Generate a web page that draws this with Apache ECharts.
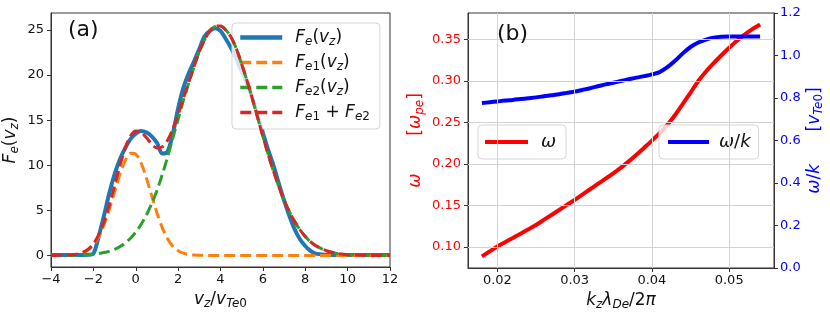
<!DOCTYPE html>
<html>
<head>
<meta charset="utf-8">
<script src="https://cdn.jsdelivr.net/npm/echarts@6/dist/echarts.min.js"></script>
<style>
html,body{margin:0;padding:0;background:#fff;}
#chart{width:830px;height:319px;}
</style>
</head>
<body>
<div id="chart"></div>
<script>
// ---------- Panel (a) data ----------
const vz = [-4, -3.5, -3, -2.75, -2.5, -2.25, -2, -1.75, -1.5, -1.25, -1, -0.75, -0.5, -0.25, 0, 0.25, 0.5, 0.75, 1, 1.25, 1.5, 1.75, 2, 2.25, 2.5, 2.75, 3, 3.25, 3.5, 3.75, 4, 4.25, 4.5, 4.75, 5, 5.25, 5.5, 5.75, 6, 6.25, 6.5, 6.75, 7, 7.25, 7.5, 7.75, 8, 8.25, 8.5, 9, 9.5, 10, 11, 12];
const Fe = [0.05, 0.05, 0.05, 0.05, 0.06, 0.08, 0.2, 2.1, 4.4, 6.9, 9.0, 10.65, 11.9, 12.9, 13.5, 13.8, 13.65, 13.2, 12.5, 11.3, 11.5, 13.5, 16.3, 18.6, 20.2, 21.5, 22.9, 24.3, 24.9, 25.2, 24.9, 24.0, 23.0, 21.8, 20.4, 19.1, 17.5, 15.6, 13.6, 11.7, 10.0, 8.0, 6.1, 4.4, 2.9, 1.8, 1.05, 0.5, 0.2, 0.08, 0.05, 0.05, 0.05, 0.05];
const Fe1 = [0, 0.01, 0.05, 0.13, 0.29, 0.60, 1.17, 2.07, 3.38, 5.09, 7.04, 8.97, 10.5, 11.32, 11.23, 10.25, 8.6, 6.64, 4.72, 3.09, 1.86, 1.03, 0.52, 0.25, 0.11, 0.04, 0.02, 0.01, 0, 0, 0, 0, 0, 0, 0, 0, 0, 0, 0, 0, 0, 0, 0, 0, 0, 0, 0, 0, 0, 0, 0, 0, 0, 0];
const Fe2 = [0.00, 0.01, 0.02, 0.03, 0.05, 0.09, 0.14, 0.21, 0.32, 0.47, 0.68, 0.98, 1.38, 1.91, 2.58, 3.43, 4.47, 5.72, 7.2, 8.95, 10.9, 13.0, 15.1, 17.2, 19.1, 20.9, 22.6, 23.9, 24.9, 25.4, 25.45, 25.0, 24.2, 22.9, 21.2, 19.4, 17.4, 15.3, 13.2, 11.2, 9.35, 7.65, 6.15, 4.85, 3.75, 2.85, 2.1, 1.52, 1.08, 0.52, 0.23, 0.09, 0.01, 0.0];
const FeSum = [0.00, 0.02, 0.07, 0.16, 0.34, 0.69, 1.31, 2.28, 3.70, 5.56, 7.72, 9.95, 11.88, 13.23, 13.81, 13.68, 13.07, 12.36, 11.92, 12.04, 12.76, 14.03, 15.62, 17.45, 19.21, 20.94, 22.62, 23.91, 24.9, 25.4, 25.45, 25.0, 24.2, 22.9, 21.2, 19.4, 17.4, 15.3, 13.2, 11.2, 9.35, 7.65, 6.15, 4.85, 3.75, 2.85, 2.1, 1.52, 1.08, 0.52, 0.23, 0.09, 0.01, 0.0];
const aXTicks = [-4, -2, 0, 2, 4, 6, 8, 10, 12];
const aYTicks = [0, 5, 10, 15, 20, 25];

// ---------- Panel (b) data ----------
const kz = [0.018, 0.019, 0.020, 0.021, 0.022, 0.023, 0.024, 0.025, 0.026, 0.027, 0.028, 0.029, 0.030, 0.031, 0.032, 0.033, 0.034, 0.035, 0.036, 0.037, 0.038, 0.039, 0.040, 0.041, 0.042, 0.043, 0.044, 0.045, 0.046, 0.047, 0.048, 0.049, 0.050, 0.051, 0.052, 0.053, 0.054];
const omega = [0.0884, 0.0944, 0.1004, 0.1055, 0.1106, 0.1158, 0.1210, 0.1263, 0.1324, 0.1384, 0.1444, 0.1505, 0.1565, 0.1630, 0.1694, 0.1758, 0.1822, 0.1886, 0.1955, 0.2030, 0.2110, 0.2195, 0.2280, 0.2370, 0.2470, 0.2590, 0.2725, 0.2860, 0.3000, 0.3115, 0.3215, 0.3310, 0.3400, 0.3485, 0.3560, 0.3625, 0.3680];
const omegaOverK = [0.776, 0.780, 0.784, 0.788, 0.791, 0.795, 0.799, 0.803, 0.808, 0.813, 0.818, 0.824, 0.830, 0.838, 0.846, 0.855, 0.864, 0.872, 0.880, 0.888, 0.896, 0.903, 0.911, 0.922, 0.945, 0.975, 1.010, 1.040, 1.061, 1.075, 1.084, 1.088, 1.089, 1.089, 1.089, 1.089, 1.089];
const bXTicks = [0.02, 0.03, 0.04, 0.05];
const bYTicks = [0.10, 0.15, 0.20, 0.25, 0.30, 0.35];
const bY2Ticks = [0.0, 0.2, 0.4, 0.6, 0.8, 1.0, 1.2];

// ---------- helpers ----------
const FONT = 'DejaVu Sans';
function rich(color, size) {
  const s = Math.round(size * 0.7);
  return {
    it: {fontFamily: FONT, fontStyle: 'italic', color: color, fontSize: size, lineHeight: size + 4},
    rm: {fontFamily: FONT, color: color, fontSize: size, lineHeight: size + 4},
    sub: {fontFamily: FONT, fontStyle: 'italic', color: color, fontSize: s, lineHeight: s + 2, verticalAlign: 'bottom'},
    subr: {fontFamily: FONT, color: color, fontSize: s, lineHeight: s + 2, verticalAlign: 'bottom'}
  };
}
const minus = v => (v < 0 ? '\u2212' + Math.abs(v) : String(v));
const pairs = (xs, ys) => xs.map((x, i) => [x, ys[i]]);

const legendLabels = {
  'Fe': '{it|F}{sub|e}{rm|(}{it|v}{sub|z}{rm|)}',
  'Fe1': '{it|F}{sub|e}{subr|1}{rm|(}{it|v}{sub|z}{rm|)}',
  'Fe2': '{it|F}{sub|e}{subr|2}{rm|(}{it|v}{sub|z}{rm|)}',
  'Fsum': '{it|F}{sub|e}{subr|1}{rm| + }{it|F}{sub|e}{subr|2}',
  'w': '{it|ω}',
  'wk': '{it|ω}{rm|/}{it|k}'
};

const axLine = {show: true, onZero: false, lineStyle: {color: '#333', width: 1}};
const axTick = {show: true, length: 4, lineStyle: {color: '#333', width: 1}};
const legendBox = {backgroundColor: 'rgba(255,255,255,0.8)', borderColor: '#d5d5d5', borderWidth: 1, borderRadius: 4,
  itemStyle: {opacity: 0, borderWidth: 0}};

const chart = echarts.init(document.getElementById('chart'), null, {renderer: 'canvas'});
const option = {
  animation: false,
  backgroundColor: '#fff',
  grid: [
    {left: 51, top: 13, width: 339, height: 254, show: true, borderColor: '#333', borderWidth: 1, backgroundColor: 'transparent'},
    {left: 468, top: 13, width: 306, height: 255, show: true, borderColor: '#333', borderWidth: 1, backgroundColor: 'transparent'}
  ],
  xAxis: [
    {gridIndex: 0, type: 'value', min: -4, max: 12, interval: 2,
     axisLine: axLine, axisTick: axTick, splitLine: {show: false},
     axisLabel: {color: '#111', fontFamily: FONT, fontSize: 13, margin: 6, formatter: minus},
     name: '{it|v}{sub|z}{rm|/}{it|v}{sub|Te}{subr|0}', nameLocation: 'middle', nameGap: 22,
     nameTextStyle: {rich: rich('#111', 17)}},
    {gridIndex: 1, type: 'value', min: 0.0162, max: 0.0558,
     axisLine: axLine,
     axisTick: Object.assign({}, axTick, {customValues: bXTicks}),
     splitLine: {show: false},
     axisLabel: {customValues: bXTicks, color: '#111', fontFamily: FONT, fontSize: 13, margin: 6, formatter: v => v.toFixed(2)},
     name: '{it|k}{sub|z}{it|λ}{sub|De}{rm|/2}{it|π}', nameLocation: 'middle', nameGap: 22,
     nameTextStyle: {rich: rich('#111', 17)}}
  ],
  yAxis: [
    {gridIndex: 0, type: 'value', min: -1.28, max: 26.88,
     axisLine: axLine,
     axisTick: Object.assign({}, axTick, {customValues: aYTicks}),
     splitLine: {show: false},
     axisLabel: {customValues: aYTicks, color: '#111', fontFamily: FONT, fontSize: 13, margin: 7},
     name: '{it|F}{sub|e}{rm|(}{it|v}{sub|z}{rm|)}', nameLocation: 'middle', nameGap: 30,
     nameTextStyle: {rich: rich('#111', 17)}},
    {gridIndex: 1, type: 'value', min: 0.0744, max: 0.382, position: 'left',
     axisLine: axLine,
     axisTick: Object.assign({}, axTick, {customValues: bYTicks}),
     splitLine: {show: false},
     axisLabel: {customValues: bYTicks, color: '#ff0000', fontFamily: FONT, fontSize: 13, margin: 7, formatter: v => v.toFixed(2)},
     name: '{it|ω}{rm|       [}{it|ω}{sub|pe}{rm|]}', nameLocation: 'middle', nameGap: 42,
     nameTextStyle: {rich: rich('#ff0000', 17)}},
    {gridIndex: 1, type: 'value', min: 0, max: 1.2, interval: 0.2, position: 'right',
     axisLine: axLine, axisTick: axTick, splitLine: {show: false},
     axisLabel: {color: '#0000ff', fontFamily: FONT, fontSize: 13, margin: 6, formatter: v => v.toFixed(1)},
     name: '{it|ω}{rm|/}{it|k}{rm|      [}{it|v}{sub|Te}{subr|0}{rm|]}', nameLocation: 'middle', nameGap: 30,
     nameTextStyle: {rich: rich('#0000ff', 17)}}
  ],
  legend: [
    Object.assign({data: [
        {name: 'Fe', lineStyle: {width: 4.5}},
        {name: 'Fe1', lineStyle: {width: 3.5}},
        {name: 'Fe2', lineStyle: {width: 3.5}},
        {name: 'Fsum', lineStyle: {width: 3.5}}],
     orient: 'vertical', left: 232, top: 23,
     itemWidth: 42, itemHeight: 14, itemGap: 6, padding: [6, 10, 6, 6],
     formatter: n => legendLabels[n],
     textStyle: {rich: rich('#111', 17), padding: [0, 0, 0, 8]}}, legendBox),
    Object.assign({data: [{name: 'ω', lineStyle: {width: 4}}], left: 478, top: 125, itemWidth: 43, itemHeight: 14, padding: [8, 10, 8, 5],
     formatter: () => legendLabels['w'],
     textStyle: {rich: rich('#111', 18), padding: [0, 0, 0, 8]}}, legendBox),
    Object.assign({data: [{name: 'ω/k', lineStyle: {width: 4}}], left: 659, top: 125, itemWidth: 41, itemHeight: 14, padding: [8, 8, 8, 7],
     formatter: () => legendLabels['wk'],
     textStyle: {rich: rich('#111', 18), padding: [0, 0, 0, 5]}}, legendBox)
  ],
  graphic: [
    {type: 'text', left: 68, top: 19, z: 10, style: {text: '(a)', fontFamily: FONT, fontSize: 22, fill: '#111'}},
    {type: 'text', left: 497, top: 23, z: 10, style: {text: '(b)', fontFamily: FONT, fontSize: 22, fill: '#111'}}
  ],
  series: [
    {name: 'Fe', type: 'line', xAxisIndex: 0, yAxisIndex: 0, data: pairs(vz, Fe), symbol: 'none', smooth: 0.3, z: 2,
     color: '#1f77b4', lineStyle: {color: '#1f77b4', width: 4}},
    {name: 'Fe1', type: 'line', xAxisIndex: 0, yAxisIndex: 0, data: pairs(vz, Fe1), symbol: 'none', smooth: 0.3, z: 3,
     color: '#ff7f0e', lineStyle: {color: '#ff7f0e', width: 3, type: [11, 5]}},
    {name: 'Fe2', type: 'line', xAxisIndex: 0, yAxisIndex: 0, data: pairs(vz, Fe2), symbol: 'none', smooth: 0.3, z: 4,
     color: '#2ca02c', lineStyle: {color: '#2ca02c', width: 3, type: [11, 5]}},
    {name: 'Fsum', type: 'line', xAxisIndex: 0, yAxisIndex: 0, data: pairs(vz, FeSum), symbol: 'none', smooth: 0.3, z: 5,
     color: '#d62728', lineStyle: {color: '#d62728', width: 3, type: [11, 5]}},
    {name: 'grid-b', type: 'line', xAxisIndex: 1, yAxisIndex: 1, data: [], z: 1, silent: true,
     markLine: {silent: true, symbol: 'none', label: {show: false}, animation: false,
       lineStyle: {color: '#d3d3d3', width: 1, type: 'solid'},
       emphasis: {disabled: true},
       data: bXTicks.map(v => ({xAxis: v})).concat(bYTicks.map(v => ({yAxis: v})))}},
    {name: 'ω', type: 'line', xAxisIndex: 1, yAxisIndex: 1, data: pairs(kz, omega), symbol: 'none', smooth: 0.3, z: 3,
     color: '#ff0000', lineStyle: {color: '#ff0000', width: 4}},
    {name: 'ω/k', type: 'line', xAxisIndex: 1, yAxisIndex: 2, data: pairs(kz, omegaOverK), symbol: 'none', smooth: 0.3, z: 3,
     color: '#0000ff', lineStyle: {color: '#0000ff', width: 4}}
  ]
};
chart.setOption(option);
</script>
</body>
</html>
